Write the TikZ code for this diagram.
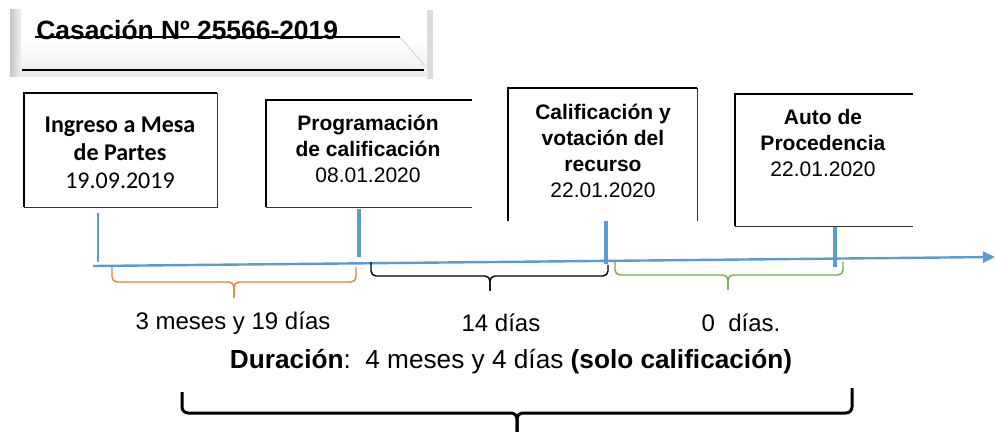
\documentclass[tikz,border=0pt]{standalone}
\usepackage{fontspec}
\setmainfont{Liberation Sans}
\newfontfamily\calibrifont{Carlito}
\usepackage{xcolor}
\usepackage{tikz}
\usetikzlibrary{arrows.meta, positioning, calc}
\definecolor{lineblue}{HTML}{5B9BD5}
\definecolor{braceorange}{HTML}{ED7D31}
\definecolor{bracegreen}{HTML}{70AD47}

\begin{document}
\begin{tikzpicture}[x=0.5pt, y=-0.5pt,
    evtext/.style={align=center, inner sep=0pt, font=\fontsize{10.5}{13}\selectfont},
    durtext/.style={inner sep=0pt, font=\fontsize{12}{14}\selectfont},
    frameheavy/.style={line width=1.2pt, black},
    framethin/.style={line width=0.4pt, black!80},
    tick/.style={lineblue, line width=2pt},
    wbrace/.style={line width=0.7pt, rounded corners=2.5pt}]
    \useasboundingbox (0,0) rectangle (995,432);
    % title frame (bevel look)
    \shade[left color=gray!45, right color=gray!12] (10,10) rectangle (21,77);
    \fill[gray!28] (427,10) rectangle (433,79);
    \fill[gray!16] (20,71) rectangle (428,77);
    \shade[top color=white, bottom color=gray!12] (21,38) rectangle (427,70);
    \draw[gray!35] (400,37) -- (425,66);
    \draw[line width=1pt] (35,37) -- (400,37);
    \draw[line width=1.2pt] (22,70) -- (424,70);
    \node[font=\fontsize{13.2}{15}\selectfont\bfseries, anchor=base west, inner sep=0pt]
          (title) at (36,40) {Casación Nº 25566-2019};
    % event boxes: heavy left/top edge, thin other edges
    \draw[framethin]  (217,93) -- (217,207) -- (24,207);
    \draw[frameheavy] (24,207) -- (24,93) -- (217,93);
    \draw[framethin]  (266,207) -- (472,207);
    \draw[frameheavy] (266,207) -- (266,100) -- (472,100);
    \draw[framethin]  (697,88) -- (697,221);
    \draw[frameheavy] (508,221) -- (508,88) -- (697,88);
    \draw[framethin]  (735,226) -- (913,226);
    \draw[frameheavy] (735,226) -- (735,94) -- (913,94);
    % event texts
    \node[evtext, font=\calibrifont\fontsize{12}{14}\selectfont] (ingreso) at (120,153)
          {\textbf{Ingreso a Mesa}\\\textbf{de Partes}\\19.09.2019};
    \node[evtext] (program) at (368,149)
          {\textbf{Programación}\\\textbf{de calificación}\\08.01.2020};
    \node[evtext] (califica) at (603,151)
          {\textbf{Calificación y}\\\textbf{votación del}\\\textbf{recurso}\\22.01.2020};
    \node[evtext] (auto) at (823,143)
          {\textbf{Auto de}\\\textbf{Procedencia}\\22.01.2020};
    % time line
    \coordinate (tstart) at (93,266);
    \coordinate (tend)   at (995,257);
    \draw[lineblue, line width=1.2pt, -{Triangle[length=6pt, width=5.5pt]}] (tstart) -- (tend);
    % ticks
    \draw[lineblue, line width=0.6pt] (98,213) -- (98,262);
    \draw[tick] (359,209) -- (359,257);
    \draw[tick] (606,221) -- (606,264);
    \draw[tick] (835,227) -- (835,267);
    % braces under the time line
    \draw[wbrace, braceorange] (112,267) -- (112,282) -- (234,282) -- (234,298);
    \draw[wbrace, braceorange] (356,267) -- (356,282) -- (234,282) -- (234,298);
    \draw[wbrace, black] (371,262) -- (371,276) -- (490,276) -- (490,291);
    \draw[wbrace, black] (608,265) -- (608,276) -- (490,276) -- (490,291);
    \draw[wbrace, bracegreen] (615,260) -- (615,275) -- (728,275) -- (728,290);
    \draw[wbrace, bracegreen] (843,262) -- (843,275) -- (728,275) -- (728,290);
    % durations
    \node[durtext] (dur1) at (233,323) {3 meses y 19 días};
    \node[durtext] (dur2) at (501,323) {14 días};
    \node[durtext] (dur3) at (741,323) {0\ \ días.};
    \node[font=\fontsize{13.1}{15}\selectfont, inner sep=0pt] (total) at (511,362)
          {\textbf{Duración}:\ \ 4 meses y 4 días \textbf{(solo calificación)}};
    % total brace
    \draw[line width=1.5pt, rounded corners=3pt] (182,392) -- (182,413) -- (517,413) -- (517,432);
    \draw[line width=1.5pt, rounded corners=3pt] (852,388) -- (852,413) -- (517,413) -- (517,432);
\end{tikzpicture}
\end{document}
